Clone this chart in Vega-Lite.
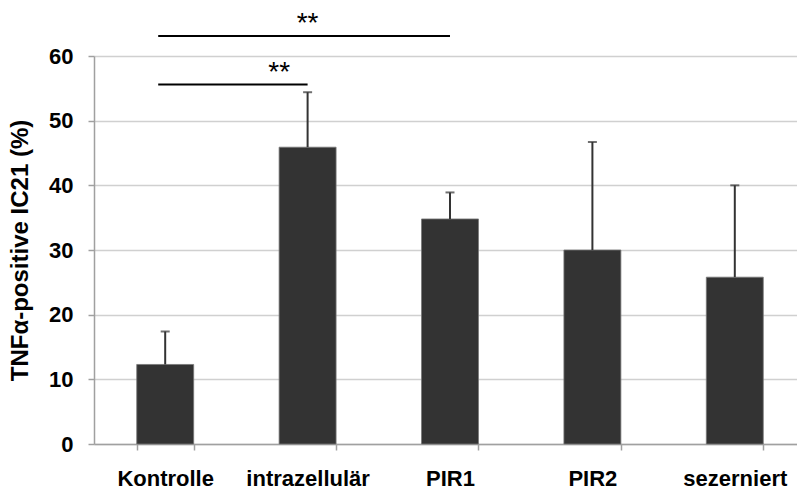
{
  "$schema": "https://vega.github.io/schema/vega-lite/v6.json",
  "width": 712,
  "height": 388,
  "autosize": {"type": "none"},
  "padding": {"left": 94, "top": 56, "right": 0, "bottom": 46},
  "background": "white",
  "config": {
    "view": {"stroke": null},
    "font": "Liberation Sans"
  },
  "datasets": {
    "bars": [
      {"group": "Kontrolle", "value": 12.3, "upper": 17.4},
      {"group": "intrazellulär", "value": 45.9, "upper": 54.4},
      {"group": "PIR1", "value": 34.8, "upper": 38.9},
      {"group": "PIR2", "value": 30.0, "upper": 46.7},
      {"group": "sezerniert", "value": 25.8, "upper": 40.0}
    ],
    "sig": [
      {"from": "Kontrolle", "to": "PIR1", "y": 63.1},
      {"from": "Kontrolle", "to": "intrazellulär", "y": 55.6}
    ],
    "stars": [
      {"group": "intrazellulär", "y": 66.2, "label": "**", "pos": "center"},
      {"group": "intrazellulär", "y": 58.6, "label": "**", "pos": "edge"}
    ]
  },
  "layer": [
    {
      "data": {"name": "bars"},
      "mark": {"type": "bar", "color": "#333333", "stroke": "#777777", "strokeWidth": 0.8},
      "encoding": {
        "x": {
          "field": "group", "type": "nominal", "sort": null,
          "scale": {"domain": ["Kontrolle", "intrazellulär", "PIR1", "PIR2", "sezerniert"], "paddingInner": 0.6, "paddingOuter": 0.3},
          "axis": {
            "title": null, "labelAngle": 0, "labelFont": "Liberation Sans", "labelFontWeight": "bold",
            "labelFontSize": 22, "labelColor": "black", "labelPadding": 18, "labelBaseline": "top",
            "domainColor": "#a0a0a0", "domainWidth": 1.5, "tickColor": "#a0a0a0", "tickWidth": 1.5, "tickSize": 6,
            "tickBand": "extent", "grid": false
          }
        },
        "y": {
          "field": "value", "type": "quantitative",
          "scale": {"domain": [0, 60], "nice": false},
          "axis": {
            "title": "TNFα-positive IC21 (%)", "titleFont": "Liberation Sans", "titleFontWeight": "bold", "titleFontSize": 24,
            "titleColor": "black", "titlePadding": 16,
            "values": [0, 10, 20, 30, 40, 50, 60],
            "labelFont": "Liberation Sans", "labelFontWeight": "bold", "labelFontSize": 22, "labelColor": "black", "labelPadding": 15,
            "domainColor": "#a0a0a0", "domainWidth": 1.5, "tickColor": "#a0a0a0", "tickWidth": 1.5, "tickSize": 6,
            "grid": true, "gridColor": "#d0d0d0", "gridWidth": 1.5
          }
        }
      }
    },
    {
      "data": {"name": "bars"},
      "mark": {"type": "rule", "color": "#333333", "strokeWidth": 2},
      "encoding": {
        "x": {"field": "group", "type": "nominal", "sort": null},
        "y": {"field": "value", "type": "quantitative"},
        "y2": {"field": "upper"}
      }
    },
    {
      "data": {"name": "bars"},
      "mark": {"type": "tick", "color": "#333333", "size": 9, "thickness": 2},
      "encoding": {
        "x": {"field": "group", "type": "nominal", "sort": null},
        "y": {"field": "upper", "type": "quantitative"}
      }
    },
    {
      "data": {"name": "sig"},
      "mark": {"type": "rule", "color": "black", "strokeWidth": 2, "xOffset": -7, "clip": false},
      "encoding": {
        "x": {"field": "from", "type": "nominal", "sort": null},
        "x2": {"field": "to"},
        "y": {"field": "y", "type": "quantitative"}
      }
    },
    {
      "data": {"name": "stars"},
      "transform": [{"filter": "datum.pos == 'center'"}],
      "mark": {"type": "text", "fontSize": 28, "fontWeight": "normal", "font": "Liberation Sans", "color": "black", "baseline": "middle", "align": "center", "dy": 8},
      "encoding": {
        "x": {"field": "group", "type": "nominal", "sort": null},
        "y": {"field": "y", "type": "quantitative"},
        "text": {"field": "label"}
      }
    },
    {
      "data": {"name": "stars"},
      "transform": [{"filter": "datum.pos == 'edge'"}],
      "mark": {"type": "text", "fontSize": 28, "fontWeight": "normal", "font": "Liberation Sans", "color": "black", "baseline": "middle", "align": "center", "dy": 8},
      "encoding": {
        "x": {"field": "group", "type": "nominal", "sort": null, "bandPosition": 0},
        "y": {"field": "y", "type": "quantitative"},
        "text": {"field": "label"}
      }
    }
  ]
}
